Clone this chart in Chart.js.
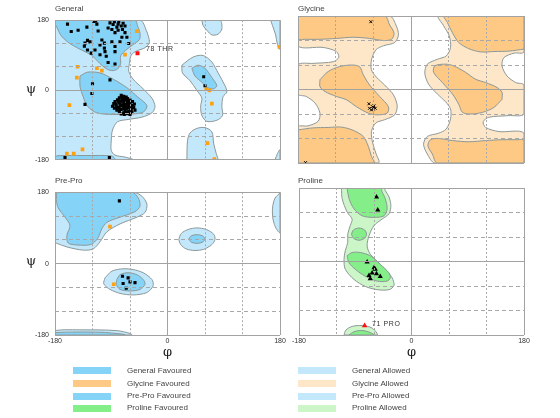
<!DOCTYPE html>
<html lang="en">
<head>
<meta charset="UTF-8" />
<title>Ramachandran plot</title>
<style>
  body { margin: 0; background: #fff; font-family: "Liberation Sans", Arial, sans-serif; }
  #wrap { position: relative; width: 560px; height: 418px; overflow: hidden; }
  canvas { position: absolute; }
  .ttl { position: absolute; font-size: 8px; line-height: 10px; color: #444; }
  .sym { position: absolute; font-family: "DejaVu Serif", serif; font-size: 13px; line-height: 14px; color: #222; }
  .tag { position: absolute; font-size: 7px; line-height: 8px; color: #333; letter-spacing: 0.6px; }
  .sw { position: absolute; width: 38px; height: 7px; }
  .lg { position: absolute; font-size: 8px; line-height: 10px; color: #444; }
</style>
</head>
<body>
<div id="wrap">
  <canvas id="cGen" width="290" height="160" style="left:0;top:10px"></canvas>
  <canvas id="cGly" width="244" height="160" style="left:290px;top:10px"></canvas>
  <canvas id="cPre" width="290" height="170" style="left:0;top:182px"></canvas>
  <canvas id="cPro" width="244" height="170" style="left:290px;top:182px"></canvas>

  <div class="ttl" style="left:55px;top:4px">General</div>
  <div class="ttl" style="left:298px;top:4px">Glycine</div>
  <div class="ttl" style="left:55px;top:176px">Pre-Pro</div>
  <div class="ttl" style="left:298px;top:176px">Proline</div>

  <div class="sym" style="left:26px;top:82px">&psi;</div>
  <div class="sym" style="left:26px;top:254px">&psi;</div>
  <div class="sym" style="left:163px;top:345px">&phi;</div>
  <div class="sym" style="left:407px;top:345px">&phi;</div>

  <div class="tag" style="left:146px;top:45px">78 THR</div>
  <div class="tag" style="left:372px;top:320px">71 PRO</div>

  <div id="legend"></div>
</div>

<script src="https://cdn.jsdelivr.net/npm/chart.js"></script>
<script>
  // axis ticks (degrees)
  const phiTicks = [-180, 0, 180];
  const psiTicks = [-180, 0, 180];

  // ---- General: region outlines [phi, psi]
  const genAllowedMain = [[-180,180],[-44,180],[-34,154],[-29,123],[-36,109],[-49,101],[-58,90],[-61,68],[-62,48],[-55,28],[-39,3],[-25,-21],[-20,-43],[-25,-59],[-41,-70],[-63,-76],[-80,-82],[-88,-103],[-90,-131],[-90,-156],[-84,-168],[-68,-173],[-55,-180],[-180,-180]];
  const genAllowedLH = [[23,64],[41,85],[57,89],[71,72],[81,44],[92,11],[95,-5],[89,-17],[87,-42],[88,-66],[79,-78],[63,-81],[55,-66],[53,-42],[55,-21],[47,-1],[36,24],[24,44]];
  const genAllowedTop = [[55,180],[84,180],[87,158],[81,144],[71,142],[63,154],[57,166]];
  const genAllowedBottom = [[31,-180],[32,-131],[36,-111],[47,-99],[60,-97],[71,-108],[74,-139],[78,-164],[80,-180]];
  const genAllowedEdgeTop = [[165,180],[180,180],[180,105],[176,117],[173,142],[168,166]];
  const genAllowedEdgeBottom = [[172,-180],[180,-180],[180,-154],[176,-164]];
  const genFavBeta = [[-180,180],[-52,180],[-48,166],[-44,146],[-45,130],[-55,117],[-65,105],[-75,88],[-75,68],[-80,54],[-89,50],[-98,55],[-108,68],[-121,89],[-140,105],[-159,123],[-171,142],[-177,162],[-180,170]];
  const genFavAlpha = [[-140,36],[-128,46],[-108,44],[-87,28],[-65,6],[-47,-19],[-33,-40],[-38,-56],[-55,-62],[-87,-63],[-113,-59],[-128,-42],[-135,-17],[-140,9]];
  const genFavBottom = [[-180,-180],[-180,-171],[-161,-169],[-129,-169],[-100,-169],[-88,-171],[-84,-180]];
  const genFavLH = [[39,56],[49,64],[60,56],[71,32],[79,11],[73,3],[63,7],[55,20],[44,36]];

  // ---- General: residues
  const genFavPts = [[-160,170],[-154,151],[-143,154],[-129,162],[-113,170],[-111,152],[-128,128],[-124,124],[-132,121],[-133,113],[-128,103],[-122,95],[-105,129],[-101,121],[-101,108],[-100,99],[-89,124],[-84,112],[-76,124],[-73,136],[-84,99],[-108,116],[-92,173],[-87,169],[-81,162],[-79,170],[-74,165],[-72,156],[-79,154],[-84,148],[-68,148],[-68,165],[-65,136],[-62,120],[-95,160],[-89,156],[-98,87],[-116,103],[-108,91],[-95,71],[-84,67],[-118,177],[-115,178],[-85,176],[-78,176],[-71,172],
    [-120,16],[-121,-9],[-132,-37],[-92,26],[58,34],[60,11],[-164,-174],[-93,-174],
    [-74,-14],[-70,-16],[-66,-18],[-77,-20],[-72,-22],[-64,-22],[-80,-25],[-68,-26],[-60,-26],[-75,-28],[-84,-30],[-64,-30],[-56,-30],[-70,-32],[-78,-33],[-86,-35],[-60,-35],[-53,-36],[-66,-37],[-74,-38],[-82,-40],[-57,-40],[-88,-42],[-62,-42],[-70,-43],[-78,-45],[-54,-45],[-85,-47],[-66,-48],[-59,-49],[-74,-50],[-81,-52],[-52,-52],[-68,-53],[-62,-55],[-77,-56],[-57,-58],[-70,-59],[-64,-61],[-74,-62],[-60,-63],[-66,-44],[-72,-40],[-64,-34],[-58,-46],[-80,-46],[-76,-35],[-68,-38],
    [-72,-18],[-68,-21],[-79,-28],[-71,-29],[-63,-38],[-58,-52],[-83,-36],[-76,-42],[-64,-46],[-70,-48],[-77,-51],[-66,-57],[-82,-45],[-55,-41],[-61,-29],[-69,-63]];
  const genAllowedPts = [[-49,152],[-68,91],[-144,60],[-113,56],[-105,50],[-145,32],[-157,-39],[-161,-164],[-150,-164],[-136,-153],[62,2],[67,-1],[71,-35],[64,-137],[75,-178],[179,111]];
  const genOutliers = [[-48,95]];

  // ---- Glycine
  const glyAllowedLeft = [[-180,180],[-34,180],[-24,158],[-20,134],[-26,115],[-44,107],[-56,97],[-63,72],[-63,48],[-55,30],[-42,11],[-28,-13],[-22,-40],[-26,-62],[-42,-74],[-56,-82],[-63,-103],[-61,-131],[-56,-156],[-52,-180],[-180,-180],[-180,-92],[-164,-89],[-148,-78],[-145,-58],[-153,-33],[-167,-17],[-180,-11],[-180,60],[-156,64],[-124,68],[-115,79],[-119,93],[-140,103],[-180,107]];
  const glyAllowedRight = [[180,-180],[38,-180],[26,-158],[20,-134],[26,-115],[44,-107],[56,-97],[63,-72],[63,-48],[55,-30],[42,-11],[28,13],[22,40],[26,62],[42,74],[56,82],[63,103],[61,131],[52,156],[44,180],[180,180],[180,92],[164,89],[148,78],[145,58],[153,33],[167,17],[180,11],[180,-60],[156,-64],[124,-68],[115,-79],[119,-93],[140,-103],[180,-107]];
  const glyFavTL = [[-180,180],[-42,180],[-34,158],[-27,138],[-31,123],[-44,120],[-66,125],[-92,128],[-119,125],[-145,123],[-167,123],[-180,125]];
  const glyFavML = [[-145,24],[-132,44],[-114,56],[-95,60],[-82,56],[-76,36],[-66,11],[-50,-17],[-36,-42],[-38,-58],[-55,-62],[-68,-58],[-87,-42],[-103,-25],[-119,-17],[-137,-5],[-145,7]];
  const glyFavBL = [[-180,-99],[-156,-94],[-132,-93],[-111,-92],[-92,-100],[-76,-115],[-68,-139],[-63,-164],[-59,-180],[-180,-180]];
  const glyFavTR = [[180,99],[156,94],[132,93],[111,92],[92,100],[76,115],[66,139],[58,164],[53,180],[180,180]];
  const glyFavMR = [[145,-24],[132,-44],[114,-56],[95,-60],[82,-56],[76,-36],[66,-11],[50,17],[36,42],[38,58],[55,62],[68,58],[87,42],[103,25],[119,17],[137,5],[145,-7]];
  const glyFavBR = [[180,-180],[42,-180],[34,-158],[27,-138],[31,-123],[44,-120],[66,-125],[92,-128],[119,-125],[145,-123],[167,-123],[180,-125]];
  const glyPts = [[-67,-35],[-66,-46],[-61,-42],[-59,-40],[-60,-48],[-57,-46],[-63,-50],[-64,166],[-168,-179]];

  // ---- Pre-Pro
  const preAllowedTL = [[-180,180],[-55,180],[-41,170],[-33,150],[-36,129],[-49,117],[-76,100],[-97,80],[-108,55],[-119,37],[-135,34],[-161,42],[-177,51],[-180,52]];
  const preAllowedLH = [[18,61],[22,76],[33,86],[47,90],[62,86],[74,74],[76,61],[71,48],[58,36],[44,33],[30,37],[21,48]];
  const preAllowedAlpha = [[-100,-36],[-89,-19],[-71,-13],[-55,-15],[-39,-23],[-25,-40],[-23,-56],[-33,-73],[-55,-79],[-76,-75],[-92,-65],[-102,-51]];
  const preAllowedBottom = [[-180,-180],[-180,-169],[-135,-167],[-81,-169],[-60,-176],[-57,-180]];
  const preAllowedEdge = [[180,178],[172,165],[168,140],[169,110],[174,88],[180,78]];
  const preFavTL = [[-177,180],[-57,180],[-47,166],[-44,145],[-52,131],[-76,117],[-97,104],[-105,88],[-112,63],[-123,48],[-145,47],[-159,52],[-161,71],[-156,96],[-164,117],[-175,141],[-178,162]];
  const preFavLH = [[34,62],[38,70],[47,73],[56,70],[60,62],[56,54],[47,51],[38,54]];
  const preFavAlpha = [[-81,-40],[-76,-28],[-63,-23],[-49,-28],[-39,-40],[-36,-52],[-44,-65],[-60,-69],[-76,-65],[-82,-52]];
  const preFavBottom = [[-180,-180],[-180,-174],[-108,-173],[-71,-178],[-68,-180]];
  const preFavPts = [[-77,158],[-72,-32],[-63,-36],[-71,-50],[-60,-46],[-52,-48],[-66,-62]];
  const preAllowedPts = [[-92,93],[-86,-52]];

  // ---- Proline
  const proAllowed = [[-112,180],[-111,154],[-103,121],[-95,104],[-98,88],[-102,67],[-102,47],[-106,26],[-108,5],[-106,-19],[-92,-44],[-74,-61],[-55,-69],[-36,-69],[-28,-59],[-31,-40],[-42,-19],[-55,1],[-66,18],[-71,38],[-68,63],[-60,88],[-47,104],[-36,117],[-33,137],[-36,158],[-42,174],[-44,180]];
  const proAllowedBottom = [[-108,-180],[-105,-168],[-95,-159],[-79,-157],[-63,-163],[-55,-180]];
  const proFavTop = [[-103,180],[-100,154],[-92,129],[-79,112],[-60,108],[-44,112],[-39,129],[-42,154],[-47,170],[-50,180]];
  const proFavMid = [[-96,67],[-93,77],[-84,82],[-75,77],[-72,67],[-75,57],[-84,52],[-93,57]];
  const proFavAlpha = [[-103,14],[-95,22],[-82,22],[-66,14],[-50,-7],[-36,-28],[-34,-40],[-39,-48],[-55,-48],[-74,-36],[-90,-19],[-100,-3]];
  const proFavBottom = [[-100,-180],[-92,-172],[-79,-169],[-66,-174],[-60,-180]];
  const proPts = [[-56,158],[-54,126],[-71,-1],[-60,-15],[-58,-19],[-63,-28],[-56,-30],[-68,-34],[-50,-37],[-66,-42]];
  const proOutliers = [[-75,-157]];

  // legend
  const legendFav = ['General Favoured', 'Glycine Favoured', 'Pre-Pro Favoured', 'Proline Favoured'];
  const legendAll = ['General Allowed', 'Glycine Allowed', 'Pre-Pro Allowed', 'Proline Allowed'];

  const col = {
    genFav: '#86d3f8', genAll: '#c3e8fb',
    glyFav: '#fdc984', glyAll: '#fee7c9',
    proFav: '#84ef88', proAll: '#ccf5c8',
    edge: '#8c9898'
  };
  const favColors = [col.genFav, col.glyFav, col.genFav, col.proFav];
  const allColors = [col.genAll, col.glyAll, col.genAll, col.proAll];

  Chart.defaults.font.family = '"Liberation Sans", Arial, sans-serif';

  function toXY(list) {
    return list.map(p => ({ x: p[0], y: p[1] }));
  }

  function region(poly, color, order) {
    return {
      data: toXY(poly.concat([poly[0]])),
      showLine: true,
      fill: 'shape',
      backgroundColor: color,
      borderColor: col.edge,
      borderWidth: 1,
      pointRadius: 0,
      tension: 0.3,
      order: order
    };
  }

  function dots(list, style, color, radius) {
    return {
      data: toXY(list),
      showLine: false,
      pointStyle: style,
      pointRadius: radius,
      pointBackgroundColor: color,
      pointBorderColor: color,
      pointBorderWidth: style === 'crossRot' ? 1 : 0,
      order: 0
    };
  }

  function edgeTick(ctx) {
    return ctx.tick && Math.abs(ctx.tick.value) % 180 === 0;
  }

  function makePanel(id, datasets, showX, showY, padLeft, padBottom) {
    new Chart(document.getElementById(id), {
      type: 'scatter',
      data: { datasets: datasets },
      options: {
        responsive: false,
        animation: false,
        events: [],
        layout: { autoPadding: false, padding: { left: padLeft, top: 6, right: 10, bottom: padBottom } },
        plugins: { legend: { display: false }, tooltip: { enabled: false } },
        scales: {
          x: {
            type: 'linear', min: -180, max: 180,
            ticks: {
              display: showX, stepSize: 60, autoSkip: false, maxRotation: 0, padding: 2,
              color: '#333', font: { size: 7 },
              callback: v => phiTicks.includes(v) ? String(v) : ''
            },
            grid: { drawTicks: false, z: 1, color: c => edgeTick(c) || (c.tick && c.tick.value === 0) ? '#a2a2a2' : '#a8a8a8' },
            border: { display: false, dash: c => (edgeTick(c) || (c.tick && c.tick.value === 0)) ? [] : [2, 2] },
            afterFit: s => { s.height = showX ? 14 : 0; }
          },
          y: {
            type: 'linear', min: -180, max: 180,
            ticks: {
              display: showY, stepSize: 60, autoSkip: false, padding: 6,
              color: '#333', font: { size: 7 },
              callback: v => psiTicks.includes(v) ? String(v) : ''
            },
            grid: { drawTicks: false, z: 1, color: c => edgeTick(c) || (c.tick && c.tick.value === 0) ? '#a2a2a2' : '#a8a8a8' },
            border: { display: false, dash: c => (edgeTick(c) || (c.tick && c.tick.value === 0)) ? [] : [4, 3] },
            afterFit: s => { s.width = showY ? 55 : 0; }
          }
        }
      }
    });
  }

  // General
  makePanel('cGen', [
    region(genAllowedMain, col.genAll, 3),
    region(genAllowedLH, col.genAll, 3),
    region(genAllowedTop, col.genAll, 3),
    region(genAllowedBottom, col.genAll, 3),
    region(genAllowedEdgeTop, col.genAll, 3),
    region(genAllowedEdgeBottom, col.genAll, 3),
    region(genFavBeta, col.genFav, 2),
    region(genFavAlpha, col.genFav, 2),
    region(genFavBottom, col.genFav, 2),
    region(genFavLH, col.genFav, 2),
    dots(genFavPts, 'rect', '#000', 2.2),
    dots(genAllowedPts, 'rect', '#ffa010', 2.6),
    dots(genOutliers, 'rect', '#ff1010', 2.8)
  ], false, true, 0, 7);

  // Glycine
  makePanel('cGly', [
    region(glyAllowedLeft, col.glyAll, 3),
    region(glyAllowedRight, col.glyAll, 3),
    region(glyFavTL, col.glyFav, 2),
    region(glyFavML, col.glyFav, 2),
    region(glyFavBL, col.glyFav, 2),
    region(glyFavTR, col.glyFav, 2),
    region(glyFavMR, col.glyFav, 2),
    region(glyFavBR, col.glyFav, 2),
    dots(glyPts, 'crossRot', '#000', 2)
  ], false, false, 8, 7);

  // Pre-Pro
  makePanel('cPre', [
    region(preAllowedTL, col.genAll, 3),
    region(preAllowedLH, col.genAll, 3),
    region(preAllowedAlpha, col.genAll, 3),
    region(preAllowedBottom, col.genAll, 3),
    region(preAllowedEdge, col.genAll, 3),
    region(preFavTL, col.genFav, 2),
    region(preFavLH, col.genFav, 2),
    region(preFavAlpha, col.genFav, 2),
    region(preFavBottom, col.genFav, 2),
    dots(preFavPts, 'rect', '#000', 2.2),
    dots(preAllowedPts, 'rect', '#ffa010', 2.6)
  ], true, true, 0, 3);

  // Proline
  makePanel('cPro', [
    region(proAllowed, col.proAll, 3),
    region(proAllowedBottom, col.proAll, 3),
    region(proFavTop, col.proFav, 2),
    region(proFavMid, col.proFav, 2),
    region(proFavAlpha, col.proFav, 2),
    region(proFavBottom, col.proFav, 2),
    dots(proPts, 'triangle', '#000', 3),
    dots(proOutliers, 'triangle', '#ff1010', 3.2)
  ], true, false, 8, 3);

  // legend rows
  const legend = document.getElementById('legend');
  const rowY = [370.5, 383.5, 396, 408];
  rowY.forEach((y, i) => {
    legend.insertAdjacentHTML('beforeend',
      `<div class="sw" style="left:73px;top:${y - 3.5}px;background:${favColors[i]}"></div>` +
      `<div class="lg" style="left:127px;top:${y - 5}px">${legendFav[i]}</div>` +
      `<div class="sw" style="left:298px;top:${y - 3.5}px;background:${allColors[i]}"></div>` +
      `<div class="lg" style="left:352px;top:${y - 5}px">${legendAll[i]}</div>`);
  });
</script>
</body>
</html>
